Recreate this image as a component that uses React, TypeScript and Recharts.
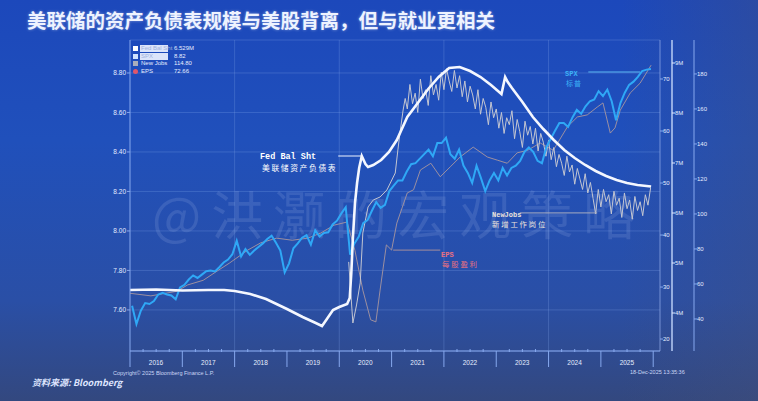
import React from 'react'
import { LineChart, Line, XAxis, YAxis, CartesianGrid, ReferenceLine } from 'recharts'

const W = 758
const H = 401

// ---- data (x = fractional year) ----

// ln(SPX), monthly from mid-Jan 2016
const SPX_START = 2016.04
const spxValues = [
  7.621, 7.528, 7.596, 7.635, 7.63, 7.645, 7.678, 7.687, 7.678, 7.673, 7.654, 7.714,
  7.727, 7.754, 7.775, 7.762, 7.779, 7.796, 7.8, 7.795, 7.816, 7.84, 7.855, 7.882,
  7.95, 7.871, 7.908, 7.879, 7.901, 7.919, 7.937, 7.959, 7.976, 7.94, 7.901, 7.79,
  7.836, 7.912, 7.937, 7.966, 7.979, 7.93, 8.003, 7.972, 7.99, 7.993, 8.033, 8.052,
  8.089, 8.12, 7.88, 7.937, 7.972, 8.039, 8.055, 8.102, 8.146, 8.117, 8.132, 8.202,
  8.229, 8.256, 8.256, 8.301, 8.338, 8.343, 8.366, 8.389, 8.412, 8.378, 8.445, 8.445,
  8.472, 8.389, 8.366, 8.412, 8.331, 8.294, 8.243, 8.331, 8.269, 8.202, 8.256, 8.294,
  8.256, 8.319, 8.281, 8.319, 8.331, 8.355, 8.401, 8.423, 8.401, 8.355, 8.343, 8.423,
  8.466, 8.507, 8.547, 8.547, 8.527, 8.575, 8.613, 8.594, 8.631, 8.657, 8.666, 8.708,
  8.683, 8.716, 8.657, 8.56, 8.648, 8.7, 8.74, 8.756, 8.78, 8.81, 8.817, 8.82,
]

// Fed balance sheet, $M (millions of millions)
const fedDates = [
  2016.0, 2016.5, 2017.0, 2017.5, 2017.8, 2018.0, 2018.3, 2018.6, 2019.0, 2019.3, 2019.55, 2019.67,
  2019.75, 2019.88, 2020.0, 2020.15, 2020.2, 2020.23, 2020.26, 2020.3, 2020.34, 2020.38, 2020.43,
  2020.5, 2020.55, 2020.65, 2020.8, 2020.95, 2021.1, 2021.3, 2021.5, 2021.7, 2021.9, 2022.1, 2022.3,
  2022.5, 2022.7, 2022.9, 2023.1, 2023.17, 2023.22, 2023.3, 2023.5, 2023.7, 2023.9, 2024.1, 2024.3,
  2024.5, 2024.7, 2024.9, 2025.1, 2025.3, 2025.5, 2025.7, 2025.96,
]
const fedValues = [
  4.46, 4.47, 4.45, 4.46, 4.46, 4.44, 4.38, 4.28, 4.08, 3.92, 3.8, 3.74,
  3.86, 4.06, 4.12, 4.18, 4.3, 4.8, 5.5, 6.2, 6.6, 6.9, 7.14,
  6.98, 6.92, 6.96, 7.06, 7.22, 7.46, 7.92, 8.2, 8.48, 8.72, 8.9, 8.92,
  8.84, 8.72, 8.56, 8.38, 8.72, 8.62, 8.5, 8.22, 7.92, 7.68, 7.46, 7.26,
  7.1, 6.96, 6.84, 6.74, 6.66, 6.6, 6.56, 6.529,
]

// EPS
const epsDates = [
  2016.0, 2016.4, 2016.9, 2017.1, 2017.4, 2017.7, 2017.9, 2018.25, 2018.5, 2018.8, 2019.1, 2019.4,
  2019.65, 2019.9, 2020.15, 2020.3, 2020.45, 2020.6, 2020.7, 2020.78, 2020.9, 2021.0, 2021.1, 2021.3,
  2021.42, 2021.55, 2021.75, 2021.93, 2022.12, 2022.31, 2022.56, 2022.83, 2023.02, 2023.21, 2023.4,
  2023.6, 2023.84, 2024.09, 2024.36, 2024.55, 2024.74, 2024.93, 2025.04, 2025.18, 2025.27, 2025.37,
  2025.56, 2025.75, 2025.96,
]
const epsValues = [
  28.8, 28.3, 29.2, 30.4, 31.3, 33.3, 34.6, 37.1, 38.5, 39.4, 39.0, 39.4,
  40.4, 41.9, 42.5, 37.0, 29.4, 23.7, 23.3, 29.4, 38.1, 37.1, 42.3, 48.1,
  48.7, 52.5, 53.8, 51.2, 53.1, 55.0, 56.9, 55.0, 54.4, 53.8, 55.8,
  56.3, 57.7, 56.3, 60.8, 62.7, 63.1, 64.6, 65.4, 59.6, 60.6, 64.0,
  67.3, 69.2, 72.66,
]

// New Jobs: the 2020 plunge and rebound, then a noisy series every 0.05 year
const jobsEarlyDates = [
  2020.18, 2020.26, 2020.33, 2020.4, 2020.45, 2020.55, 2020.65, 2020.78, 2020.91, 2021.07, 2021.12,
  2021.16, 2021.22, 2021.26,
]
const jobsEarlyValues = [72.6, 37.7, 48, 60.6, 89.1, 104, 108, 109.7, 113.7, 123.4, 136.6, 146.3, 159.4, 166]
const JOBS_START = 2021.3
const jobsValues = [
  160, 174, 163, 169, 158, 177, 166, 171, 162, 179, 168, 174, 165, 181,
  171, 183, 176, 170, 182, 172, 179, 167, 176, 164, 173, 168, 160, 171, 157, 166, 161, 151, 164, 155,
  160, 149, 158, 146, 155, 151, 159, 143, 154, 147, 138, 153, 145, 150, 140, 149, 136, 146, 141, 133,
  142, 131, 138, 127, 134, 129, 122, 133, 124, 128, 117, 126, 120, 114, 123, 112, 118, 109, 100, 114,
  104, 114, 107, 111, 100, 113, 105, 109, 98, 112, 103, 108, 97, 110, 102, 107, 99, 111, 105, 114.8,
]

// axes
const spxTicks = [7.6, 7.8, 8.0, 8.2, 8.4, 8.6, 8.8]
const epsTicks = [20, 30, 40, 50, 60, 70]
const jobsTicks = [40, 60, 80, 100, 120, 140, 160, 180]
const fedTicks = [4, 5, 6, 7, 8, 9]
const years = [2016, 2017, 2018, 2019, 2020, 2021, 2022, 2023, 2024, 2025, 2026]
const gridYears = [2018, 2020, 2022, 2024]

const legendRows = [
  { label: 'Fed Bal Sht', value: '6.529M', color: '#ffffff', boxed: true, round: false },
  { label: 'SPX', value: '8.82', color: '#cfe3ff', boxed: true, round: false },
  { label: 'New Jobs', value: '114.80', color: '#a9adbb', boxed: false, round: false },
  { label: 'EPS', value: '72.66', color: '#e0566a', boxed: false, round: true },
]

const spxData = spxValues.map((v, i) => ({ t: SPX_START + i / 12, v }))
const fedData = fedDates.map((t, i) => ({ t, v: fedValues[i] }))
const epsData = epsDates.map((t, i) => ({ t, v: epsValues[i] }))
const jobsData = [
  ...jobsEarlyDates.map((t, i) => ({ t, v: jobsEarlyValues[i] })),
  ...jobsValues.map((v, i) => ({ t: JOBS_START + i * 0.05, v })),
]

const quarterTicks: number[] = []
years.forEach(y => {
  quarterTicks.push(y)
  if (y < 2026) quarterTicks.push(y + 0.25, y + 0.5, y + 0.75)
})

const AXIS = '#86a8ee'
const GRID = 'rgba(130,165,235,0.28)'
const SMALL = '"Liberation Sans", Arial, sans-serif'
const MONO = '"Liberation Mono", "DejaVu Sans Mono", monospace'
const CJK = '"Noto Sans CJK SC", sans-serif'

const YearTick = (props: any) => {
  const { x, y, payload } = props
  const v = payload.value as number
  const isYear = Math.abs(v - Math.round(v)) < 1e-6
  if (!isYear) {
    return <line x1={x} x2={x} y1={y - 2} y2={y + 1} stroke={AXIS} strokeWidth={1} />
  }
  return (
    <g>
      <line x1={x} x2={x} y1={y} y2={y + 16} stroke={AXIS} strokeWidth={1} />
      {v < 2026 && (
        <text x={x + 26} y={y + 14} textAnchor="middle" fill="#e6eeff" fontSize={6.5} fontFamily={SMALL}>
          {v}
        </text>
      )}
    </g>
  )
}

const tickStyle = { fill: '#e3ebff', fontSize: 6.5, fontFamily: SMALL }

const note = (extra: React.CSSProperties): React.CSSProperties => ({
  position: 'absolute',
  whiteSpace: 'nowrap',
  lineHeight: '8px',
  height: 8,
  ...extra,
})

export default function App() {
  return (
    <div
      style={{
        position: 'fixed',
        left: 0,
        top: 0,
        width: W,
        height: H,
        overflow: 'hidden',
        background:
          'linear-gradient(180deg, #1c48bb 0%, #2050bb 35%, #2a4fa6 75%, #33487f 100%)',
        fontFamily: CJK,
      }}
    >
      <div
        style={{
          position: 'absolute',
          inset: 0,
          background: 'linear-gradient(90deg, rgba(0,0,0,0) 82%, rgba(70,80,120,0.35) 100%)',
        }}
      />
      <div
        style={{
          position: 'absolute',
          left: 27,
          top: 8,
          fontSize: 19.5,
          fontWeight: 700,
          color: '#eef3ff',
          whiteSpace: 'nowrap',
          textShadow: '0 0 3px rgba(255,255,255,0.45)',
          lineHeight: '24px',
        }}
      >
        美联储的资产负债表规模与美股背离，但与就业更相关
      </div>

      {/* watermark */}
      <div
        style={{
          position: 'absolute',
          left: 152,
          top: 182,
          fontSize: 52,
          letterSpacing: 10,
          color: 'rgba(185,200,240,0.15)',
          whiteSpace: 'nowrap',
          lineHeight: '62px',
        }}
      >
        @洪灏的宏观策略
      </div>

      <div style={{ position: 'absolute', left: 0, top: 0 }}>
        <LineChart width={W} height={H} margin={{ top: 40, right: 49, bottom: 26, left: 100 }}>
          <CartesianGrid yAxisId="spx" vertical={false} stroke={GRID} strokeWidth={1} />
          <XAxis
            dataKey="t"
            type="number"
            domain={[2016, 2026.13]}
            allowDataOverflow
            ticks={quarterTicks}
            interval={0}
            tick={<YearTick />}
            tickSize={0}
            tickMargin={0}
            tickLine={false}
            axisLine={{ stroke: AXIS, strokeWidth: 1.2 }}
            height={24}
          />
          <YAxis
            yAxisId="spx"
            orientation="left"
            type="number"
            domain={[7.392, 8.967]}
            allowDataOverflow
            ticks={spxTicks}
            interval={0}
            tickFormatter={(v: number) => v.toFixed(2)}
            tick={tickStyle}
            tickSize={3}
            tickMargin={1}
            tickLine={{ stroke: AXIS }}
            axisLine={{ stroke: AXIS }}
            width={30}
          />
          <YAxis
            yAxisId="eps"
            orientation="right"
            type="number"
            domain={[17.7, 77.5]}
            allowDataOverflow
            ticks={epsTicks}
            interval={0}
            tick={{ ...tickStyle, fontSize: 6 }}
            tickSize={3}
            tickMargin={0}
            tickLine={{ stroke: AXIS }}
            axisLine={{ stroke: 'rgba(150,175,235,0.7)' }}
            width={12}
          />
          <YAxis
            yAxisId="jobs"
            orientation="right"
            type="number"
            domain={[21.7, 199.4]}
            allowDataOverflow
            ticks={jobsTicks}
            interval={0}
            tick={{ ...tickStyle, fontSize: 6 }}
            tickSize={3}
            tickMargin={0}
            tickLine={{ stroke: AXIS }}
            axisLine={{ stroke: AXIS }}
            width={15}
          />
          <YAxis
            yAxisId="fed"
            orientation="right"
            type="number"
            domain={[3.24, 9.46]}
            allowDataOverflow
            ticks={fedTicks}
            interval={0}
            tickFormatter={(v: number) => `${v}M`}
            tick={{ ...tickStyle, fontSize: 6 }}
            tickSize={3}
            tickMargin={0}
            tickLine={{ stroke: '#dfe8ff' }}
            axisLine={{ stroke: '#b9ccf5', strokeWidth: 1.5 }}
            width={22}
          />

          {gridYears.map(y => (
            <ReferenceLine key={y} x={y} yAxisId="spx" stroke={GRID} strokeWidth={1} />
          ))}

          <Line
            data={epsData}
            dataKey="v"
            yAxisId="eps"
            type="linear"
            stroke="#a8969f"
            strokeWidth={0.9}
            dot={false}
            isAnimationActive={false}
          />
          <Line
            data={jobsData}
            dataKey="v"
            yAxisId="jobs"
            type="linear"
            stroke="#c3c6d2"
            strokeWidth={1}
            dot={false}
            isAnimationActive={false}
          />
          <Line
            data={spxData}
            dataKey="v"
            yAxisId="spx"
            type="linear"
            stroke="#2fa8f6"
            strokeWidth={2}
            dot={false}
            isAnimationActive={false}
          />
          <Line
            data={fedData}
            dataKey="v"
            yAxisId="fed"
            type="linear"
            stroke="#f4f7ff"
            strokeWidth={2.6}
            dot={false}
            isAnimationActive={false}
          />

          {/* annotation pointers */}
          <ReferenceLine
            yAxisId="fed"
            segment={[{ x: 2019.98, y: 7.14 }, { x: 2020.42, y: 7.14 }]}
            stroke="#eef3ff"
            strokeWidth={1}
          />
          <ReferenceLine
            yAxisId="spx"
            segment={[{ x: 2024.76, y: 8.805 }, { x: 2025.75, y: 8.805 }]}
            stroke="#5db8f2"
            strokeWidth={1}
          />
          <ReferenceLine
            yAxisId="jobs"
            segment={[{ x: 2023.45, y: 100.6 }, { x: 2024.93, y: 100.6 }]}
            stroke="#a8adc0"
            strokeWidth={1}
          />
          <ReferenceLine
            yAxisId="eps"
            segment={[{ x: 2021.03, y: 37.1 }, { x: 2021.93, y: 37.1 }]}
            stroke="#a48e9c"
            strokeWidth={1}
          />
        </LineChart>
      </div>

      {/* legend */}
      {legendRows.map((r, i) => (
        <div
          key={r.label}
          style={{
            position: 'absolute',
            left: 133,
            top: 45 + i * 7.7,
            height: 7,
            display: 'flex',
            alignItems: 'center',
            fontFamily: SMALL,
            fontSize: 6,
            lineHeight: '7px',
            color: '#e6edff',
            whiteSpace: 'nowrap',
          }}
        >
          <span
            style={{
              width: 5,
              height: 5,
              background: r.color,
              borderRadius: r.round ? 3 : 0,
              marginRight: 2,
            }}
          />
          <span
            style={{
              width: 27,
              background: r.boxed ? 'rgba(235,241,255,0.92)' : 'transparent',
              color: r.boxed ? '#9fb3dc' : '#e6edff',
              paddingLeft: 1,
            }}
          >
            {r.label}
          </span>
          <span style={{ marginLeft: 6 }}>{r.value}</span>
        </div>
      ))}

      {/* annotations */}
      <div style={note({ left: 260, top: 153, height: 9, lineHeight: '9px', fontFamily: MONO, fontWeight: 700, fontSize: 8.5, color: '#ffffff' })}>
        Fed Bal Sht
      </div>
      <div style={note({ left: 262, top: 164, fontSize: 7.8, letterSpacing: 1.6, color: '#ffffff' })}>
        美联储资产负债表
      </div>
      <div style={note({ left: 565, top: 70, fontFamily: MONO, fontWeight: 700, fontSize: 7, color: '#3cb2f7' })}>
        SPX
      </div>
      <div style={note({ left: 566, top: 79, fontSize: 7, letterSpacing: 1, color: '#3cb2f7' })}>
        标普
      </div>
      <div style={note({ left: 492, top: 211, fontFamily: MONO, fontWeight: 700, fontSize: 7, color: '#ece4dc' })}>
        NewJobs
      </div>
      <div style={note({ left: 492, top: 220, fontSize: 7.4, letterSpacing: 1.8, color: '#ece4dc' })}>
        新增工作岗位
      </div>
      <div style={note({ left: 441, top: 251, fontFamily: MONO, fontWeight: 700, fontSize: 7, color: '#ea7080' })}>
        EPS
      </div>
      <div style={note({ left: 442, top: 260, fontSize: 7.4, letterSpacing: 1.8, color: '#ea7080' })}>
        每股盈利
      </div>

      {/* footer texts */}
      <div style={note({ left: 113, top: 369, fontFamily: SMALL, fontSize: 5.5, color: '#cbd7f6' })}>
        Copyright© 2025 Bloomberg Finance L.P.
      </div>
      <div style={note({ left: 630, top: 368, fontFamily: SMALL, fontSize: 5.5, color: '#cbd7f6' })}>
        18-Dec-2025 13:35:36
      </div>
      <div style={note({ left: 32, top: 377, height: 12, lineHeight: '12px', fontSize: 9, fontWeight: 700, fontStyle: 'italic', color: '#dfe6ff' })}>
        资料来源: Bloomberg
      </div>
    </div>
  )
}
